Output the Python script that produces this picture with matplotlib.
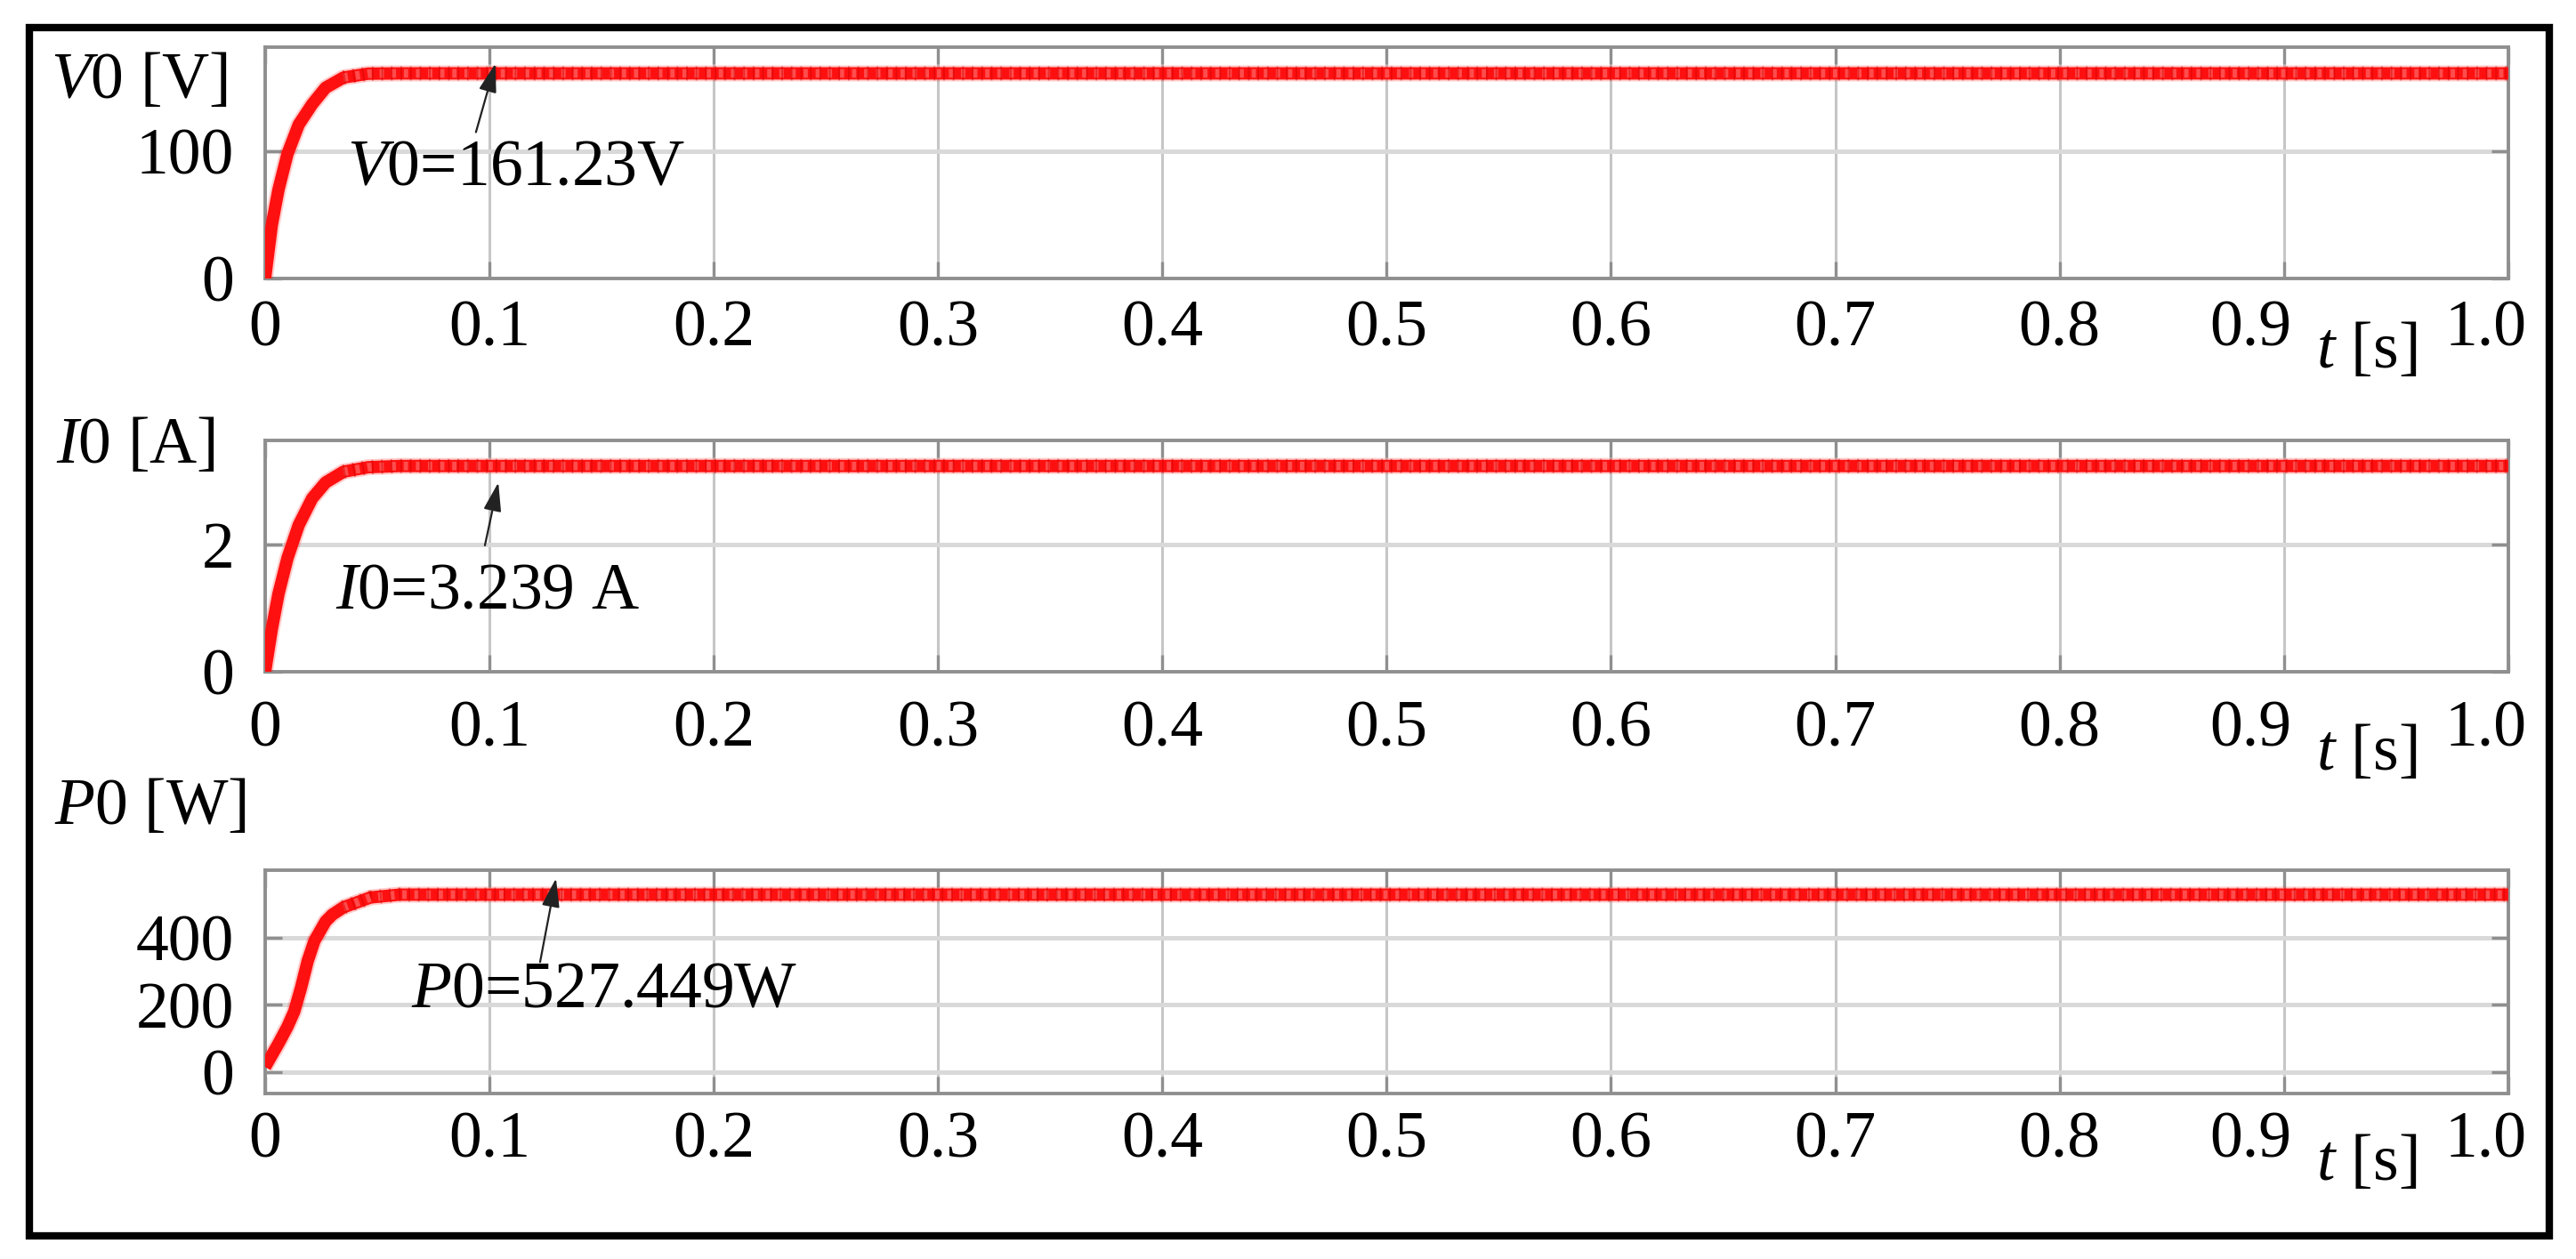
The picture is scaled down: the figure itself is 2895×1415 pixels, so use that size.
import matplotlib
matplotlib.use("Agg")
import matplotlib.pyplot as plt
import matplotlib.transforms as mtransforms
from matplotlib.patches import Rectangle

plt.rcParams.update({
    "font.family": ["Liberation Serif", "DejaVu Serif"],
    "mathtext.fontset": "custom",
    "mathtext.rm": "Liberation Serif",
    "mathtext.it": "Liberation Serif:italic",
    "mathtext.bf": "Liberation Serif:bold",
})

# ---- data ----
t_vi = [0, 0.003, 0.006, 0.010, 0.015, 0.021, 0.027, 0.035, 0.046, 0.060, 1.0]
v0 = [0, 42, 70, 98, 121, 137, 150, 158, 161, 161.23, 161.23]
i0 = [0, 0.67, 1.23, 1.79, 2.31, 2.73, 2.98, 3.15, 3.22, 3.239, 3.239]
t_p = [0, 0.006, 0.010, 0.013, 0.016, 0.019, 0.022, 0.027, 0.030, 0.035, 0.047, 0.060, 1.0]
p0 = [15, 85, 135, 180, 250, 330, 390, 448, 468, 490, 519, 527.449, 527.449]

x_ticks = [0, 0.1, 0.2, 0.3, 0.4, 0.5, 0.6, 0.7, 0.8, 0.9, 1.0]
x_ticklabels = ["0", "0.1", "0.2", "0.3", "0.4", "0.5", "0.6", "0.7", "0.8", "0.9", "1.0"]

v_ticks = [0, 100]
i_ticks = [0, 2]
p_ticks = [0, 200, 400]

ylabels = [r"$V$0 [V]", r"$I$0 [A]", r"$P$0 [W]"]
notes = [r"$V$0=161.23V", r"$I$0=3.239 A", r"$P$0=527.449W"]

FS = 53
W, H = 2895, 1415
fig = plt.figure(figsize=(W / 100, H / 100), dpi=100)
fig.patch.set_facecolor("white")

panels = [
    dict(rect=[0.1029, 0.7788, 0.8708, 0.1837], t=t_vi, y=v0, ylim=(0, 181.8), yt=v_ticks,
         lab=ylabels[0], lab_off=(-241, -57), note=notes[0], note_xy=(0.0365, 74),
         arr_from=(0.094, 115), arr_to=(0.1027, 169), xpad=17, tdy=-100),
    dict(rect=[0.1029, 0.4664, 0.8708, 0.1837], t=t_vi, y=i0, ylim=(0, 3.64), yt=i_ticks,
         lab=ylabels[1], lab_off=(-235, -25), note=notes[1], note_xy=(0.0313, 1.0),
         arr_from=(0.098, 1.99), arr_to=(0.104, 2.98), xpad=23, tdy=-110),
    dict(rect=[0.1029, 0.1314, 0.8708, 0.1774], t=t_p, y=p0, ylim=(-64, 600), yt=p_ticks,
         lab=ylabels[2], lab_off=(-237, 52), note=notes[2], note_xy=(0.065, 193),
         arr_from=(0.1226, 327), arr_to=(0.1297, 576), xpad=14, tdy=-97),
]

spine_c = "#8f8f8f"
for p in panels:
    ax = fig.add_axes(p["rect"])
    ax.set_facecolor("white")
    ax.set_xlim(0, 1.0)
    ax.set_ylim(*p["ylim"])
    ax.set_xticks(x_ticks)
    ax.set_xticklabels(x_ticklabels)
    ax.set_yticks(p["yt"])
    ax.set_yticklabels([str(v) for v in p["yt"]])
    ax.xaxis.grid(True, color="#c6c6c6", lw=2.2, zorder=0)
    ax.yaxis.grid(True, color="#d9d9d9", lw=3.6, zorder=0)
    ax.set_axisbelow(True)
    for s in ax.spines.values():
        s.set_color(spine_c)
        s.set_linewidth(2.8)
    ax.tick_params(axis="both", which="major", direction="in", length=14, width=2.4,
                   color=spine_c, top=True, right=True, labelsize=FS)
    ax.tick_params(axis="x", pad=p["xpad"])
    ax.tick_params(axis="y", pad=25)

    t = p["t"]
    y = p["y"]
    ax.plot(t, y, color="#ff0000", lw=13, alpha=0.2, solid_capstyle="butt", zorder=3)
    ax.plot(t, y, color="#ff1010", lw=10, solid_capstyle="butt", zorder=3)
    ts = [ti for ti in t if ti >= 0.035]
    ys = [yi for ti, yi in zip(t, y) if ti >= 0.035]
    ax.plot(ts, ys, color="#ff8080", lw=7, alpha=0.55, dashes=(0.5, 0.9), zorder=4)
    ax.plot(ts, ys, color="#d00000", lw=11.5, alpha=0.45, dashes=(0.12, 0.55), zorder=4)

    ax.annotate("", xy=p["arr_to"], xytext=p["arr_from"],
                arrowprops=dict(arrowstyle="-|>,head_length=0.9,head_width=0.28",
                                mutation_scale=22, color="#222222", lw=1.6,
                                shrinkA=0, shrinkB=0), zorder=6)
    ax.text(p["note_xy"][0], p["note_xy"][1], p["note"], fontsize=FS, ha="left",
            va="baseline", zorder=7)

    ax.annotate(p["lab"], xy=(0, 1), xycoords="axes fraction", xytext=p["lab_off"],
                textcoords="offset pixels", ha="left", va="baseline", fontsize=FS,
                annotation_clip=False)
    ax.annotate(r"$t$ [s]", xy=(1, 0), xycoords="axes fraction", xytext=(-216, p["tdy"]),
                textcoords="offset pixels", ha="left", va="baseline", fontsize=FS,
                annotation_clip=False)

    ticks = ax.xaxis.get_major_ticks()
    for idx, dx in ((9, -38), (10, -25)):
        lbl = ticks[idx].label1
        lbl.set_transform(lbl.get_transform() +
                          mtransforms.ScaledTranslation(dx / 100, 0, fig.dpi_scale_trans))

# outer black frame
fig.add_artist(Rectangle((33 / W, 1 - 1389 / H), (2865 - 33) / W, (1389 - 31) / H,
                         transform=fig.transFigure, fill=False, edgecolor="black", lw=6))

fig.savefig("out.png", dpi=100, facecolor="white")
